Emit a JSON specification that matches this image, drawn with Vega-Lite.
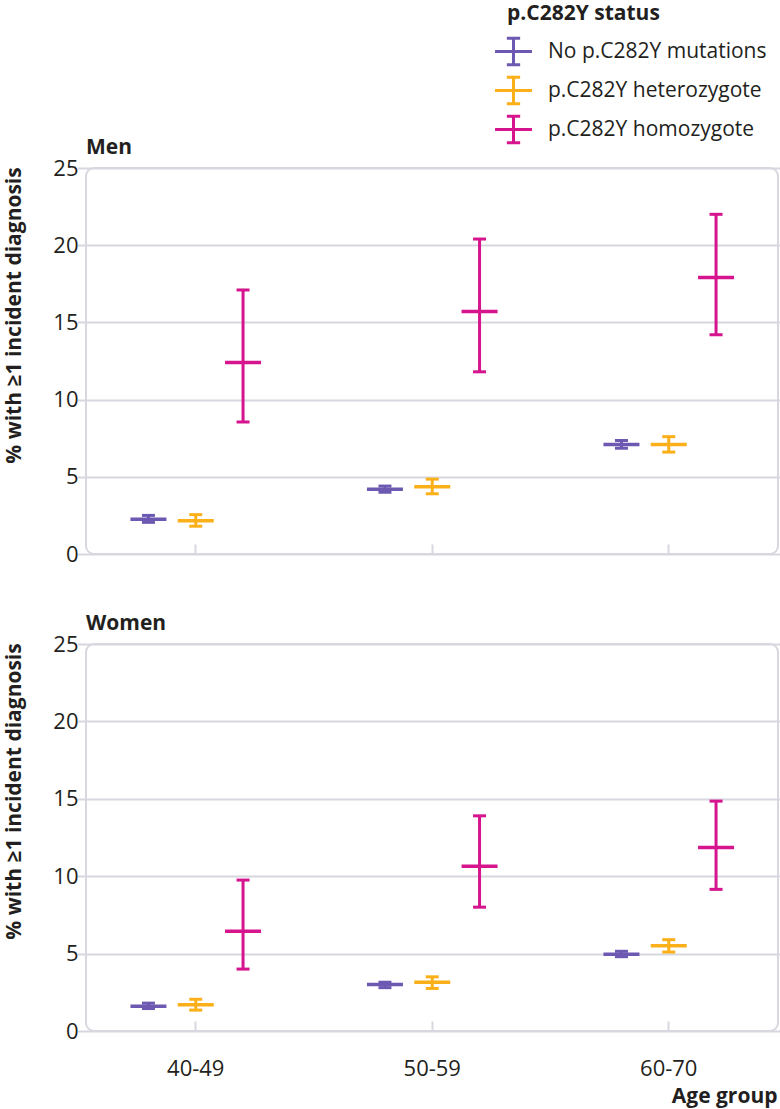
{
  "$schema": "https://vega.github.io/schema/vega-lite/v6.json",
  "padding": {"left": 1, "top": 3, "right": 2, "bottom": 4},
  "background": "white",
  "config": {
    "font": "Open Sans",
    "view": {"stroke": "#d7d7e0", "strokeWidth": 2, "cornerRadius": 8},
    "axis": {"labelColor": "#231f20", "titleColor": "#231f20", "labelFontSize": 22, "titleFontSize": 21, "titleFontWeight": "bold"},
    "title": {"anchor": "start", "frame": "group", "fontSize": 21, "fontWeight": "bold", "color": "#231f20", "offset": -1},
    "legend": {"orient": "none", "legendX": 421, "legendY": -165, "padding": 0, "titleFontSize": 21, "titleFontWeight": "bold", "titleColor": "#231f20", "titlePadding": 8, "labelFontSize": 21, "labelColor": "#231f20", "labelOffset": 15, "symbolOffset": -13, "labelLimit": 0, "rowPadding": -3, "symbolSize": 1260, "symbolStrokeWidth": 3, "symbolType": "M-1.04,0H1.04M0,-0.75V0.75M-0.375,-0.75H0.375M-0.375,0.75H0.375"}
  },
  "data": {"values": [
    {"sex": "Men", "age": "40-49", "status": "No p.C282Y mutations", "est": 2.25, "lower": 2.05, "upper": 2.5},
    {"sex": "Men", "age": "40-49", "status": "p.C282Y heterozygote", "est": 2.15, "lower": 1.8, "upper": 2.55},
    {"sex": "Men", "age": "40-49", "status": "p.C282Y homozygote", "est": 12.4, "lower": 8.55, "upper": 17.1},
    {"sex": "Men", "age": "50-59", "status": "No p.C282Y mutations", "est": 4.2, "lower": 4.0, "upper": 4.4},
    {"sex": "Men", "age": "50-59", "status": "p.C282Y heterozygote", "est": 4.35, "lower": 3.9, "upper": 4.85},
    {"sex": "Men", "age": "50-59", "status": "p.C282Y homozygote", "est": 15.7, "lower": 11.8, "upper": 20.4},
    {"sex": "Men", "age": "60-70", "status": "No p.C282Y mutations", "est": 7.1, "lower": 6.85, "upper": 7.35},
    {"sex": "Men", "age": "60-70", "status": "p.C282Y heterozygote", "est": 7.1, "lower": 6.6, "upper": 7.6},
    {"sex": "Men", "age": "60-70", "status": "p.C282Y homozygote", "est": 17.9, "lower": 14.2, "upper": 22.0},
    {"sex": "Women", "age": "40-49", "status": "No p.C282Y mutations", "est": 1.6, "lower": 1.45, "upper": 1.8},
    {"sex": "Women", "age": "40-49", "status": "p.C282Y heterozygote", "est": 1.7, "lower": 1.35, "upper": 2.05},
    {"sex": "Women", "age": "40-49", "status": "p.C282Y homozygote", "est": 6.45, "lower": 4.0, "upper": 9.75},
    {"sex": "Women", "age": "50-59", "status": "No p.C282Y mutations", "est": 3.0, "lower": 2.8, "upper": 3.15},
    {"sex": "Women", "age": "50-59", "status": "p.C282Y heterozygote", "est": 3.15, "lower": 2.75, "upper": 3.5},
    {"sex": "Women", "age": "50-59", "status": "p.C282Y homozygote", "est": 10.65, "lower": 8.0, "upper": 13.9},
    {"sex": "Women", "age": "60-70", "status": "No p.C282Y mutations", "est": 4.95, "lower": 4.8, "upper": 5.15},
    {"sex": "Women", "age": "60-70", "status": "p.C282Y heterozygote", "est": 5.5, "lower": 5.1, "upper": 5.9},
    {"sex": "Women", "age": "60-70", "status": "p.C282Y homozygote", "est": 11.85, "lower": 9.15, "upper": 14.85}
  ]},
  "spacing": 46,
  "vconcat": [
    {
      "title": {"text": "Men"},
      "width": 692,
      "height": 386,
      "transform": [{"filter": "datum.sex === 'Men'"}],
      "encoding": {
        "x": {"field": "age", "type": "nominal", "scale": {"range": [-8.5, 701], "paddingInner": 0, "paddingOuter": 0},
              "axis": {"labels": false, "title": null, "domain": false, "grid": false, "ticks": true, "tickSize": -10, "tickColor": "#d7d7e0", "tickWidth": 2}},
        "xOffset": {"field": "status", "type": "nominal", "sort": ["No p.C282Y mutations", "p.C282Y heterozygote", "p.C282Y homozygote"], "scale": {"paddingInner": 0, "paddingOuter": 1.456}},
        "color": {"field": "status", "type": "nominal", "title": "p.C282Y status",
                  "scale": {"domain": ["No p.C282Y mutations", "p.C282Y heterozygote", "p.C282Y homozygote"], "range": ["#6d59b2", "#fbb01a", "#d5148d"]},
                  "legend": {"encode": {"symbols": {"update": {"stroke": {"scale": "color", "field": "value"}, "strokeWidth": {"value": 3}, "fill": {"value": "transparent"}}}}}}
      },
      "layer": [
        {"mark": {"type": "rule", "strokeWidth": 3},
         "encoding": {"y": {"field": "lower", "type": "quantitative", "scale": {"domain": [0, 25], "nice": false},
                            "axis": {"title": "% with ≥1 incident diagnosis", "values": [0, 5, 10, 15, 20, 25], "grid": true, "gridColor": "#d7d7e0", "gridWidth": 2, "ticks": false, "domain": false, "labelPadding": 8, "titleX": -62, "titleY": 147, "titleAlign": "center", "titleBaseline": "bottom"}},
                      "y2": {"field": "upper"}}},
        {"mark": {"type": "tick", "size": 13, "thickness": 3, "opacity": 1}, "encoding": {"y": {"field": "lower", "type": "quantitative"}}},
        {"mark": {"type": "tick", "size": 13, "thickness": 3, "opacity": 1}, "encoding": {"y": {"field": "upper", "type": "quantitative"}}},
        {"mark": {"type": "tick", "size": 36, "thickness": 3.5, "opacity": 1}, "encoding": {"y": {"field": "est", "type": "quantitative"}}}
      ]
    },
    {
      "title": {"text": "Women"},
      "width": 692,
      "height": 387,
      "transform": [{"filter": "datum.sex === 'Women'"}],
      "encoding": {
        "x": {"field": "age", "type": "nominal", "scale": {"range": [-8.5, 701], "paddingInner": 0, "paddingOuter": 0},
              "axis": {"labelAngle": 0, "labelPadding": 37, "title": "Age group", "titleX": 691, "titleY": 65, "titleAlign": "right", "titleBaseline": "middle", "domain": false, "grid": false, "ticks": true, "tickSize": -10, "tickColor": "#d7d7e0", "tickWidth": 2}},
        "xOffset": {"field": "status", "type": "nominal", "sort": ["No p.C282Y mutations", "p.C282Y heterozygote", "p.C282Y homozygote"], "scale": {"paddingInner": 0, "paddingOuter": 1.456}},
        "color": {"field": "status", "type": "nominal", "title": "p.C282Y status",
                  "scale": {"domain": ["No p.C282Y mutations", "p.C282Y heterozygote", "p.C282Y homozygote"], "range": ["#6d59b2", "#fbb01a", "#d5148d"]}}
      },
      "layer": [
        {"mark": {"type": "rule", "strokeWidth": 3},
         "encoding": {"y": {"field": "lower", "type": "quantitative", "scale": {"domain": [0, 25], "nice": false},
                            "axis": {"title": "% with ≥1 incident diagnosis", "values": [0, 5, 10, 15, 20, 25], "grid": true, "gridColor": "#d7d7e0", "gridWidth": 2, "ticks": false, "domain": false, "labelPadding": 8, "titleX": -62, "titleY": 147, "titleAlign": "center", "titleBaseline": "bottom"}},
                      "y2": {"field": "upper"}}},
        {"mark": {"type": "tick", "size": 13, "thickness": 3, "opacity": 1}, "encoding": {"y": {"field": "lower", "type": "quantitative"}}},
        {"mark": {"type": "tick", "size": 13, "thickness": 3, "opacity": 1}, "encoding": {"y": {"field": "upper", "type": "quantitative"}}},
        {"mark": {"type": "tick", "size": 36, "thickness": 3.5, "opacity": 1}, "encoding": {"y": {"field": "est", "type": "quantitative"}}}
      ]
    }
  ],
  "resolve": {"scale": {"color": "shared"}}
}
